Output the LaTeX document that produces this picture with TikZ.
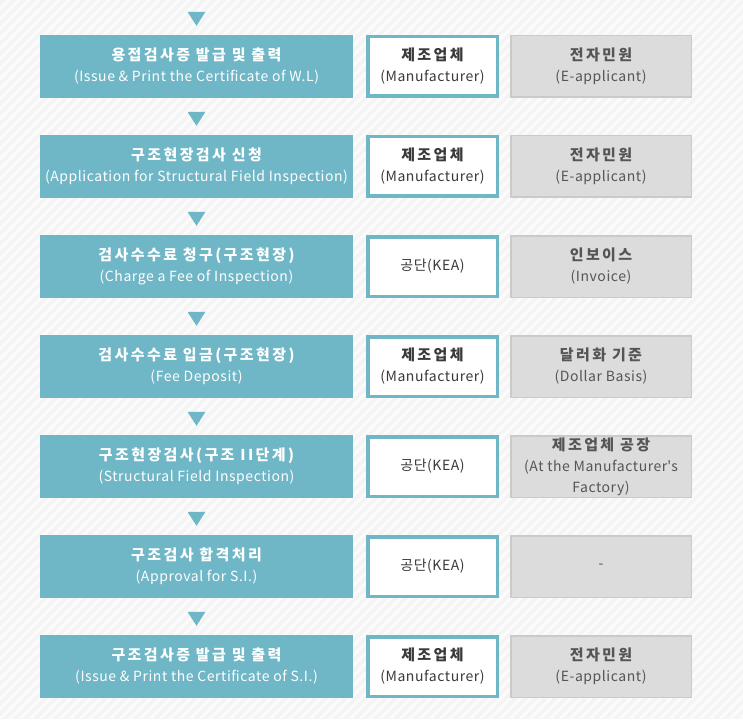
\documentclass[tikz,border=0pt]{standalone}
\usepackage{fontspec}
\setmainfont[LetterSpace=4]{Noto Sans CJK KR}
\newfontfamily\kor[LetterSpace=16]{Noto Sans CJK KR}
\usepackage{tikz}

\definecolor{kteal}{HTML}{6FB6C6}
\definecolor{kback}{HTML}{F4F4F4}
\definecolor{kstripe}{HTML}{FBFBFB}
\definecolor{kgrey}{HTML}{DCDCDC}
\definecolor{kline}{HTML}{CACACA}
\definecolor{kdark}{HTML}{3A3A3A}
\definecolor{ktext}{HTML}{555555}

\newcommand{\kline}[1]{{\kor\bfseries\fontsize{15}{21}\selectfont #1}}

\begin{document}
\begin{tikzpicture}[x=1pt,y=-1pt]
	\tikzstyle{every node}=[font=\fontsize{14}{21}\selectfont, align=center, inner sep=0pt]
	\tikzstyle{taskbox}=[fill=kteal, text=white, minimum width=313pt, minimum height=63pt]
	\tikzstyle{whobox}=[draw=kteal, line width=3.5pt, fill=white, text=kdark, minimum width=129.5pt, minimum height=59.5pt]
	\tikzstyle{docbox}=[draw=kline, line width=1.5pt, fill=kgrey, text=ktext, minimum width=180.5pt, minimum height=61.5pt]
	\tikzstyle{tri}=[fill=kteal]

	% background with light stripes
	\fill[kback] (0,0) rectangle (743,719);
	\begin{scope}
		\clip (0,0) rectangle (743,719);
		\foreach \x in {-730,-720,...,740}
			\draw[kstripe, line width=3.5pt] (\x,719) -- (\x+719,0);
	\end{scope}

	% step 1
	\node[taskbox] (task1) at (196.5,66.5) {\kline{용접검사증 발급 및 출력}\\(Issue \& Print the Certificate of W.L)};
	\node[whobox] (who1) at (432.5,66.5) {\kline{제조업체}\\(Manufacturer)};
	\node[docbox] (doc1) at (601,66.5) {\kline{전자민원}\\(E-applicant)};

	% step 2
	\node[taskbox] (task2) at (196.5,166.5) {\kline{구조현장검사 신청}\\(Application for Structural Field Inspection)};
	\node[whobox] (who2) at (432.5,166.5) {\kline{제조업체}\\(Manufacturer)};
	\node[docbox] (doc2) at (601,166.5) {\kline{전자민원}\\(E-applicant)};

	% step 3
	\node[taskbox] (task3) at (196.5,266.5) {\kline{검사수수료 청구(구조현장)}\\(Charge a Fee of Inspection)};
	\node[whobox] (who3) at (432.5,266.5) {공단(KEA)};
	\node[docbox] (doc3) at (601,266.5) {\kline{인보이스}\\(Invoice)};

	% step 4
	\node[taskbox] (task4) at (196.5,366.5) {\kline{검사수수료 입금(구조현장)}\\(Fee Deposit)};
	\node[whobox] (who4) at (432.5,366.5) {\kline{제조업체}\\(Manufacturer)};
	\node[docbox] (doc4) at (601,366.5) {\kline{달러화 기준}\\(Dollar Basis)};

	% step 5
	\node[taskbox] (task5) at (196.5,466.5) {\kline{구조현장검사(구조 II단계)}\\(Structural Field Inspection)};
	\node[whobox] (who5) at (432.5,466.5) {공단(KEA)};
	\node[docbox] (doc5) at (601,466.5) {\kline{제조업체 공장}\\(At the Manufacturer\textquotesingle s\\Factory)};

	% step 6
	\node[taskbox] (task6) at (196.5,566.5) {\kline{구조검사 합격처리}\\(Approval for S.I.)};
	\node[whobox] (who6) at (432.5,566.5) {공단(KEA)};
	\node[docbox] (doc6) at (601,566.5) {-};

	% step 7
	\node[taskbox] (task7) at (196.5,666.5) {\kline{구조검사증 발급 및 출력}\\(Issue \& Print the Certificate of S.I.)};
	\node[whobox] (who7) at (432.5,666.5) {\kline{제조업체}\\(Manufacturer)};
	\node[docbox] (doc7) at (601,666.5) {\kline{전자민원}\\(E-applicant)};

	% triangles above each step
	\fill[tri] ([yshift=9pt]task1.north) -- ++(-9,-14) -- ++(18,0) -- cycle;
	\fill[tri] ([yshift=9pt]task2.north) -- ++(-9,-14) -- ++(18,0) -- cycle;
	\fill[tri] ([yshift=9pt]task3.north) -- ++(-9,-14) -- ++(18,0) -- cycle;
	\fill[tri] ([yshift=9pt]task4.north) -- ++(-9,-14) -- ++(18,0) -- cycle;
	\fill[tri] ([yshift=9pt]task5.north) -- ++(-9,-14) -- ++(18,0) -- cycle;
	\fill[tri] ([yshift=9pt]task6.north) -- ++(-9,-14) -- ++(18,0) -- cycle;
	\fill[tri] ([yshift=9pt]task7.north) -- ++(-9,-14) -- ++(18,0) -- cycle;
\end{tikzpicture}
\end{document}
